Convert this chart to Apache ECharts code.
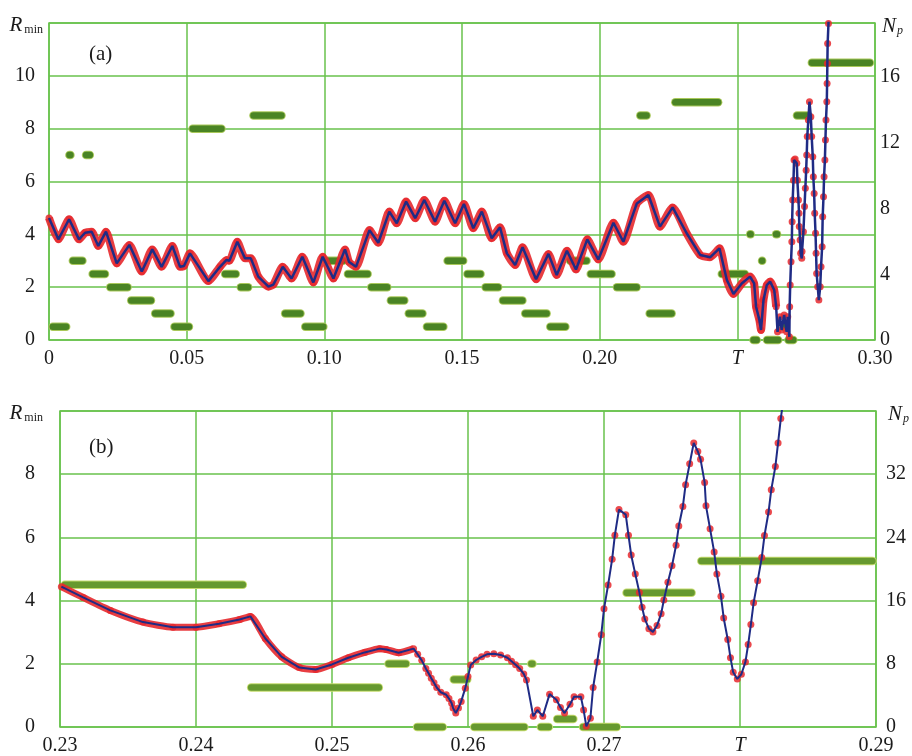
<!DOCTYPE html>
<html>
<head>
<meta charset="utf-8">
<script src="https://cdn.jsdelivr.net/npm/echarts@6/dist/echarts.min.js"></script>
<style>
html,body{margin:0;padding:0;background:#fff;}
#chart{width:912px;height:756px;}
</style>
</head>
<body>
<div id="chart"></div>
<script>
// ---------- Panel (a) ----------
const topXLabels = ['0', '0.05', '0.10', '0.15', '0.20', 'T', '0.30'];
const topLeftLabels = ['0', '2', '4', '6', '8', '10', ''];
const topRightLabels = ['0', '4', '8', '12', '16'];
// R_min(T), panel (a): [T, R]
const topCurve = [
  [0, 4.62], [0.0034, 3.81], [0.0073, 4.57], [0.0109, 3.81], [0.0131, 4.06], [0.0155, 4.10],
  [0.0179, 3.56], [0.0207, 4.10], [0.0246, 2.90], [0.0292, 3.60], [0.0337, 2.59], [0.0375, 3.43],
  [0.0409, 2.77], [0.0448, 3.56], [0.0476, 2.77], [0.0490, 2.80], [0.0512, 3.28], [0.0579, 2.23],
  [0.0621, 2.77], [0.0645, 3.03], [0.0655, 3.00], [0.0684, 3.72], [0.0712, 3.09], [0.0733, 3.09],
  [0.0760, 2.40], [0.0797, 2.02], [0.0815, 2.10], [0.0849, 2.77], [0.0881, 2.33], [0.0920, 3.15],
  [0.0960, 2.18], [0.0994, 3.15], [0.1033, 2.33], [0.1075, 3.43], [0.1090, 2.95], [0.1115, 2.77],
  [0.1164, 4.16], [0.1196, 3.68], [0.1236, 4.86], [0.1263, 4.42], [0.1297, 5.24], [0.1330, 4.61],
  [0.1363, 5.30], [0.1402, 4.48], [0.1436, 5.27], [0.1475, 4.42], [0.1507, 5.15], [0.1541, 4.23],
  [0.1572, 4.86], [0.1608, 3.85], [0.1638, 4.27], [0.1663, 3.28], [0.1693, 2.84], [0.1720, 3.51],
  [0.1769, 2.30], [0.1814, 3.26], [0.1844, 2.46], [0.1881, 3.38], [0.1914, 2.67], [0.1955, 3.81],
  [0.1995, 3.05], [0.2050, 4.44], [0.2086, 3.72], [0.2135, 5.17], [0.2177, 5.49], [0.2219, 4.29],
  [0.2265, 5.02], [0.2316, 4.04], [0.2365, 3.22], [0.2401, 3.13], [0.2435, 3.47], [0.2462, 2.27],
  [0.2486, 1.74], [0.2516, 2.14], [0.2546, 2.40], [0.2561, 2.14], [0.2568, 1.26], [0.2580, 0.76],
  [0.2586, 0.38], [0.2595, 1.51], [0.2607, 2.08], [0.2619, 2.21], [0.2634, 1.89], [0.2641, 1.26],
  [0.2646, 0.31], [0.2655, 0.88], [0.2661, 0.38], [0.2670, 0.95], [0.2679, 0.31], [0.2683, 0.88],
  [0.2689, 0.12], [0.2690, 1.26], [0.2692, 2.08], [0.2695, 2.96], [0.2698, 3.72], [0.2699, 4.48],
  [0.2701, 5.30], [0.2704, 6.05], [0.2706, 6.81], [0.2710, 6.85], [0.2716, 6.69], [0.2718, 6.05],
  [0.2722, 5.30], [0.2724, 4.80], [0.2725, 4.30], [0.2728, 3.79], [0.2730, 3.28], [0.2734, 3.09],
  [0.2735, 3.35], [0.2740, 4.10], [0.2744, 5.05], [0.2747, 5.74], [0.2750, 6.43], [0.2752, 7.00],
  [0.2754, 7.70], [0.2758, 8.33], [0.2762, 9.02], [0.2767, 8.45], [0.2770, 7.70], [0.2774, 6.94],
  [0.2776, 6.18], [0.2779, 5.55], [0.2781, 4.80], [0.2784, 4.04], [0.2786, 3.28], [0.2788, 2.52],
  [0.2792, 2.02], [0.2796, 1.51], [0.2801, 2.02], [0.2804, 2.77], [0.2808, 3.53], [0.2810, 4.67],
  [0.2813, 5.42], [0.2815, 6.18], [0.2818, 6.81], [0.2820, 7.57], [0.2822, 8.33], [0.2825, 9.02],
  [0.2826, 9.71], [0.2827, 10.47], [0.2828, 11.22], [0.2831, 11.98], [0.2833, 12.6]
];
const topDenseEnd = 0.2643;
// N_p steps, panel (a): [T start, T end, N_p]
const topNpSegs = [
  [0.0001, 0.0075, 1], [0.0073, 0.0079, 14], [0.0122, 0.0161, 14], [0.0074, 0.0134, 6],
  [0.0146, 0.0216, 5], [0.0210, 0.0298, 4], [0.0286, 0.0383, 3], [0.0373, 0.0454, 2],
  [0.0443, 0.0521, 1], [0.0509, 0.0639, 16], [0.0627, 0.0691, 5], [0.0684, 0.0736, 4],
  [0.0730, 0.0857, 17], [0.0845, 0.0926, 2], [0.0918, 0.1009, 1], [0.0996, 0.1081, 6],
  [0.1073, 0.1170, 5], [0.1158, 0.1241, 4], [0.1229, 0.1303, 3], [0.1294, 0.1369, 2],
  [0.1360, 0.1445, 1], [0.1435, 0.1517, 6], [0.1507, 0.1580, 5], [0.1573, 0.1644, 4],
  [0.1636, 0.1732, 3], [0.1717, 0.1820, 2], [0.1808, 0.1888, 1], [0.1880, 0.1965, 6],
  [0.1955, 0.2056, 5], [0.2050, 0.2147, 4], [0.2135, 0.2183, 17], [0.2169, 0.2274, 2],
  [0.2262, 0.2443, 18], [0.2431, 0.2540, 5], [0.2534, 0.2561, 8], [0.2637, 0.2648, 8],
  [0.2577, 0.2603, 6], [0.2546, 0.2583, 0], [0.2595, 0.2661, 0], [0.2673, 0.2716, 0],
  [0.2655, 0.2684, 1], [0.2704, 0.2770, 17], [0.2758, 0.2994, 21]
];

// ---------- Panel (b) ----------
const botXLabels = ['0.23', '0.24', '0.25', '0.26', '0.27', 'T', '0.29'];
const botLeftLabels = ['0', '2', '4', '6', '8', ''];
const botRightLabels = ['0', '8', '16', '24', '32', ''];
const botCurve = [
  [0.2301, 4.44], [0.2317, 4.10], [0.2337, 3.69], [0.2361, 3.32], [0.2383, 3.16], [0.2400, 3.16],
  [0.2417, 3.27], [0.2432, 3.40], [0.2440, 3.50], [0.2451, 2.80], [0.2463, 2.22], [0.2476, 1.88],
  [0.2488, 1.82], [0.2500, 1.98], [0.2512, 2.19], [0.2524, 2.36], [0.2535, 2.48], [0.2540, 2.45],
  [0.2549, 2.35], [0.2560, 2.48], [0.2563, 2.30], [0.2566, 2.11], [0.2569, 1.85], [0.2571, 1.70],
  [0.2573, 1.54], [0.2575, 1.40], [0.2577, 1.25], [0.2580, 1.10], [0.2584, 1.02], [0.2586, 0.90],
  [0.2588, 0.75], [0.2589, 0.60], [0.2591, 0.44], [0.2593, 0.60], [0.2595, 0.81], [0.2598, 1.23],
  [0.2600, 1.60], [0.2602, 1.96], [0.2606, 2.12], [0.2610, 2.22], [0.2614, 2.30], [0.2619, 2.32],
  [0.2624, 2.28], [0.2629, 2.19], [0.2632, 2.08], [0.2635, 1.97], [0.2638, 1.85], [0.2641, 1.68],
  [0.2643, 1.49], [0.2648, 0.34], [0.2651, 0.54], [0.2655, 0.34], [0.2660, 1.04], [0.2665, 0.86],
  [0.2668, 0.62], [0.2671, 0.44], [0.2675, 0.72], [0.2678, 0.96], [0.2683, 0.96], [0.2685, 0.54],
  [0.2687, 0.02], [0.2690, 0.28], [0.2692, 1.25], [0.2695, 2.06], [0.2698, 2.92], [0.2700, 3.74],
  [0.2703, 4.49], [0.2706, 5.31], [0.2708, 6.07], [0.2711, 6.88], [0.2716, 6.72], [0.2718, 6.07],
  [0.2720, 5.44], [0.2723, 4.84], [0.2726, 4.26], [0.2728, 3.79], [0.2730, 3.42], [0.2733, 3.11],
  [0.2736, 3.01], [0.2739, 3.21], [0.2742, 3.58], [0.2744, 4.02], [0.2747, 4.58], [0.2750, 5.10],
  [0.2753, 5.75], [0.2755, 6.36], [0.2758, 6.98], [0.2760, 7.67], [0.2763, 8.33], [0.2766, 8.99],
  [0.2769, 8.72], [0.2771, 8.47], [0.2774, 7.74], [0.2775, 7.00], [0.2778, 6.27], [0.2781, 5.54],
  [0.2783, 4.84], [0.2786, 4.14], [0.2788, 3.45], [0.2791, 2.77], [0.2793, 2.19], [0.2795, 1.73],
  [0.2798, 1.52], [0.2801, 1.67], [0.2804, 2.06], [0.2806, 2.61], [0.2808, 3.24], [0.2810, 3.93],
  [0.2813, 4.63], [0.2816, 5.36], [0.2818, 6.06], [0.2821, 6.80], [0.2823, 7.51], [0.2826, 8.24],
  [0.2828, 8.99], [0.2830, 9.76], [0.2832, 10.40]
];
const botDenseEnd = 0.2562;
const botNpSegs = [
  [0.2301, 0.2437, 18], [0.2438, 0.2537, 5], [0.2539, 0.2557, 8], [0.2560, 0.2584, 0],
  [0.2587, 0.2602, 6], [0.2602, 0.2644, 0], [0.2644, 0.2650, 8], [0.2651, 0.2662, 0],
  [0.2663, 0.2680, 1], [0.2682, 0.2712, 0], [0.2714, 0.2767, 17], [0.2769, 0.2900, 21]
];

// ---------- styles ----------
const GRID = '#68c24c';
const SERIF = '"Liberation Serif", "DejaVu Serif", serif';
const TXT = '#1b1b1b';
const RED = '#e6292e';
const BLUE = '#1f2b85';

function xAxisFor(gi, min, max, interval, labels) {
  return {
    type: 'value', gridIndex: gi, min: min, max: max, interval: interval,
    axisLine: { show: false }, axisTick: { show: false },
    splitLine: { show: true, lineStyle: { color: GRID, width: 1.5 } },
    axisLabel: {
      color: TXT, fontFamily: SERIF, fontSize: 20, margin: 9,
      formatter: function (v) {
        const s = labels[Math.round((v - min) / interval)] || '';
        return s === 'T' ? '{i|T}' : s;
      },
      rich: { i: { fontStyle: 'italic', fontFamily: SERIF, fontSize: 20, color: TXT } }
    }
  };
}
function leftAxis(gi, max, interval, labels, padRight) {
  return {
    type: 'value', gridIndex: gi, position: 'left', min: 0, max: max, interval: interval,
    axisLine: { show: false }, axisTick: { show: false },
    splitLine: { show: true, lineStyle: { color: GRID, width: 1.5 } },
    axisLabel: {
      color: TXT, fontFamily: SERIF, fontSize: 20, margin: padRight + 8,
      formatter: function (v) { return labels[Math.round(v / interval)] || ''; }
    },
    name: '{r|R}{m|min}', nameLocation: 'end', nameGap: 0,
    nameTextStyle: {
      align: 'right', verticalAlign: 'middle', padding: [4, padRight, 0, 0],
      rich: {
        r: { fontStyle: 'italic', fontFamily: SERIF, fontSize: 21, color: TXT, verticalAlign: 'bottom', lineHeight: 22 },
        m: { fontFamily: SERIF, fontSize: 12, color: TXT, verticalAlign: 'bottom', lineHeight: 16, padding: [0, 0, 0, 2] }
      }
    }
  };
}
function rightAxis(gi, max, interval, labels, margin) {
  return {
    type: 'value', gridIndex: gi, position: 'right', min: 0, max: max, interval: interval,
    axisLine: { show: false }, axisTick: { show: false }, splitLine: { show: false },
    axisLabel: {
      color: TXT, fontFamily: SERIF, fontSize: 20, margin: margin,
      formatter: function (v) {
        const k = v / interval;
        return Math.abs(k - Math.round(k)) < 1e-6 ? (labels[Math.round(k)] || '') : '';
      }
    },
    name: '{n|N}{p|p}', nameLocation: 'end', nameGap: 0,
    nameTextStyle: {
      align: 'left', verticalAlign: 'middle', padding: [6, 0, 0, margin + 2],
      rich: {
        n: { fontStyle: 'italic', fontFamily: SERIF, fontSize: 21, color: TXT, verticalAlign: 'bottom', lineHeight: 22 },
        p: { fontStyle: 'italic', fontFamily: SERIF, fontSize: 12, color: TXT, verticalAlign: 'bottom', lineHeight: 14, padding: [0, 0, 0, 1] }
      }
    }
  };
}

function segRenderer(dark, light, w) {
  return function (params, api) {
    const a = api.coord([api.value(0), api.value(2)]);
    const b = api.coord([api.value(1), api.value(2)]);
    let x1 = a[0] + w / 2, x2 = b[0] - w / 2;
    if (x2 < x1) { const c = (a[0] + b[0]) / 2; x1 = c - 0.5; x2 = c + 0.5; }
    return {
      type: 'group',
      children: [
        { type: 'line', shape: { x1: x1, y1: a[1], x2: x2, y2: b[1] },
          style: { stroke: light, lineWidth: w + 1.5, lineCap: 'round' } },
        { type: 'line', shape: { x1: x1, y1: a[1], x2: x2, y2: b[1] },
          style: { stroke: dark, lineWidth: w - 0.5, lineCap: 'round' } }
      ]
    };
  };
}

function curveSeries(xi, yi, data, denseEnd, dotSize, bandWidth, lineWidth) {
  return [
    { type: 'line', xAxisIndex: xi, yAxisIndex: yi, data: data.filter(function (p) { return p[0] <= denseEnd; }),
      showSymbol: false, symbol: 'none', smooth: 0.2, lineStyle: { color: RED, width: bandWidth, opacity: 0.9 },
      z: 3, silent: true, animation: false },
    { type: 'scatter', xAxisIndex: xi, yAxisIndex: yi, data: data, symbolSize: dotSize,
      itemStyle: { color: RED, opacity: 0.85 }, z: 4, silent: true, animation: false, clip: true },
    { type: 'line', xAxisIndex: xi, yAxisIndex: yi, data: data, showSymbol: false, symbol: 'none',
      lineStyle: { color: BLUE, width: lineWidth }, z: 5, silent: true, animation: false }
  ];
}

const chart = echarts.init(document.getElementById('chart'), null, { renderer: 'canvas' });
chart.setOption({
  backgroundColor: '#ffffff',
  animation: false,
  title: [
    { text: '(a)', left: 84, top: 39, textStyle: { fontFamily: SERIF, fontSize: 21, fontWeight: 'normal', color: TXT } },
    { text: '(b)', left: 84, top: 432, textStyle: { fontFamily: SERIF, fontSize: 21, fontWeight: 'normal', color: TXT } }
  ],
  grid: [
    { left: 49, right: 37, top: 23, height: 317, show: true, borderColor: GRID, borderWidth: 1.5 },
    { left: 60, right: 32, top: 411, height: 318, show: true, borderColor: GRID, borderWidth: 1.5 }
  ],
  xAxis: [
    xAxisFor(0, 0, 0.30, 0.05, topXLabels),
    xAxisFor(1, 0.23, 0.29, 0.01, botXLabels)
  ],
  yAxis: [
    leftAxis(0, 12, 2, topLeftLabels, 6),
    rightAxis(0, 19.3, 4, topRightLabels, 5),
    { type: 'value', gridIndex: 0, min: 0, max: 24, show: false },
    leftAxis(1, 10, 2, botLeftLabels, 17),
    rightAxis(1, 40, 8, botRightLabels, 10)
  ],
  series: [
    { type: 'custom', xAxisIndex: 0, yAxisIndex: 2, data: topNpSegs, encode: { x: [0, 1], y: 2 },
      renderItem: segRenderer('#4a8424', '#a9c85a', 7), z: 2, silent: true, animation: false },
    { type: 'custom', xAxisIndex: 1, yAxisIndex: 4, data: botNpSegs, encode: { x: [0, 1], y: 2 },
      renderItem: segRenderer('#66992f', '#c3da6c', 7), z: 2, silent: true, animation: false }
  ].concat(
    curveSeries(0, 0, topCurve, topDenseEnd, 7, 8, 2.5),
    curveSeries(1, 3, botCurve, botDenseEnd, 7, 7, 2)
  )
});
</script>
</body>
</html>
